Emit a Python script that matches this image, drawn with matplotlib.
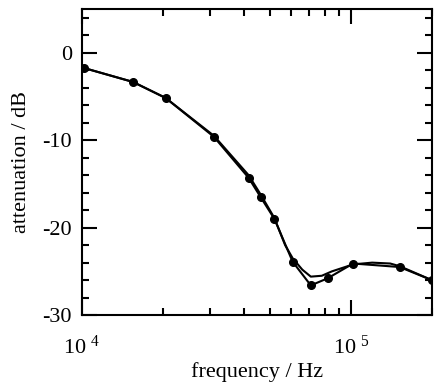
import matplotlib
matplotlib.use('agg')
import matplotlib.pyplot as plt
from matplotlib.ticker import MultipleLocator, FixedLocator, FixedFormatter, LogLocator, NullFormatter

plt.rcParams['font.family'] = ['Liberation Serif', 'DejaVu Serif']
plt.rcParams['mathtext.fontset'] = 'custom'
plt.rcParams['mathtext.rm'] = 'Liberation Serif'
plt.rcParams['axes.unicode_minus'] = False

# measured points (with markers)
freq_meas = [10200, 15500, 20500, 31000, 41700, 46200, 52000, 60800, 71000, 81900, 102000, 151700, 200000]
att_meas = [-1.75, -3.34, -5.17, -9.62, -14.3, -16.5, -19.0, -23.9, -26.6, -25.8, -24.1, -24.5, -26.0]

# simulated curve (no markers)
freq_sim = [10200, 15500, 20500, 31000, 41700, 46200, 52000, 57000, 60800, 66000, 71000, 78000,
            85000, 102000, 120000, 140000, 151700, 200000]
att_sim = [-1.75, -3.34, -5.17, -9.5, -14.0, -16.2, -18.9, -22.0, -23.5, -24.8, -25.6, -25.5,
           -25.0, -24.2, -24.0, -24.1, -24.4, -26.0]

fig = plt.figure(figsize=(4.38, 3.90), dpi=100)
ax = fig.add_axes([0.1865, 0.192, 0.7995, 0.785])

ax.plot(freq_sim, att_sim, color='black', lw=1.5)
ax.plot(freq_meas, att_meas, color='black', lw=1.5, marker='o', ms=5.5)

ax.set_xscale('log')
ax.set_xlim(1e4, 2e5)
ax.set_ylim(-30, 5)

ax.xaxis.set_major_locator(FixedLocator([1e4, 1e5]))
ax.xaxis.set_major_formatter(FixedFormatter([r'$\mathregular{10^{\ 4}}$', r'$\mathregular{10^{\ 5}}$']))
ax.xaxis.set_minor_locator(LogLocator(base=10, subs=range(2, 10)))
ax.xaxis.set_minor_formatter(NullFormatter())

ax.yaxis.set_major_locator(MultipleLocator(10))
ax.yaxis.set_minor_locator(MultipleLocator(2))

for s in ax.spines.values():
    s.set_linewidth(1.5)

ax.tick_params(which='both', direction='in', top=True, right=True, width=1.5, labelsize=16)
ax.tick_params(which='major', length=11)
ax.tick_params(which='minor', length=5)
ax.tick_params(axis='x', which='major', pad=15)
ax.tick_params(axis='y', which='major', pad=7)

ax.set_xlabel('frequency / Hz', fontsize=16, labelpad=2)
ax.set_ylabel('attenuation / dB', fontsize=16, labelpad=8)

fig.savefig('out.png', dpi=100)
